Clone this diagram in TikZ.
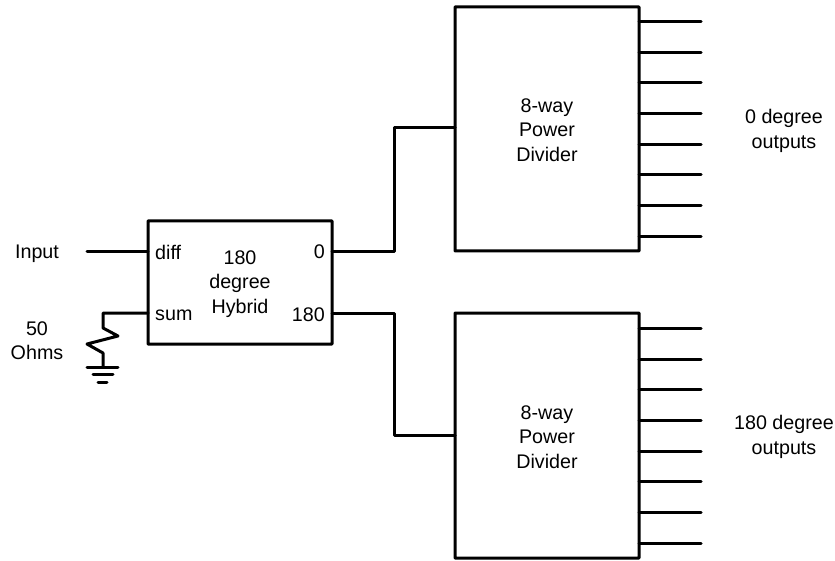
\documentclass[tikz,border=0pt]{standalone}
\usepackage{fontspec}
\setmainfont{Liberation Sans}
\begin{document}
\begin{tikzpicture}[x=1pt,y=-1pt,
  wire/.style={line width=3pt,line cap=round,line join=round},
  blockbox/.style={draw,line width=3pt,rounded corners=0.6pt,minimum width=#1,anchor=north west,inner sep=0pt,outer sep=0pt},
  lbl/.style={font=\fontsize{19.7}{24.5}\selectfont,align=center,inner sep=0pt}]
\useasboundingbox (0,0) rectangle (835,561);
\node[blockbox=184pt,minimum height=123pt] (hyb) at (148,221) {};
\node[blockbox=184pt,minimum height=244pt] (div1) at (455,7) {};
\node[blockbox=184pt,minimum height=245pt] (div2) at (455,313) {};
\node[lbl] (t1) at (240,284) {180\\degree\\Hybrid};
\node[lbl,anchor=west] (pd) at (155,252) {diff};
\node[lbl,anchor=west] (ps) at (155,315) {sum};
\node[lbl,anchor=east] (p0) at (325,252) {0};
\node[lbl,anchor=east] (p180) at (325,315) {180};
\node[lbl] (t2) at (547,130) {8-way\\Power\\Divider};
\node[lbl] (t3) at (547,437) {8-way\\Power\\Divider};
\node[lbl] (inp) at (37,254) {Input};
\node[lbl] (ohm) at (37,340.5) {50\\Ohms};
\node[lbl] (o1) at (784,131) {0 degree\\outputs};
\node[lbl] (o2) at (784,437) {180 degree\\outputs};
\coordinate (instart) at (87,252);
\coordinate (hin) at (hyb.west |- instart);
\draw[wire] (instart) -- (hin);
\coordinate (hsum) at (148,313);
\coordinate (gnd) at (103,367);
\draw[wire] (hsum) -- (103,313) -- (103,328) -- (118,336) -- (87,344) -- (103,353) -- (gnd);
\draw[wire] (87,367) -- (118,367);
\draw[wire] (93,374) -- (113,374);
\draw[wire] (98,382) -- (107,382);
\coordinate (h0) at (332,252);
\coordinate (h180) at (332,313);
\coordinate (d1in) at (div1.west |- 0,128);
\coordinate (d2in) at (div2.west |- 0,435);
\draw[wire] (h0) -- (394,252) -- (394,128) -- (d1in);
\draw[wire] (h180) -- (394,313) -- (394,435) -- (d2in);
\foreach \y in {22,52.5,83,114,144.5,175,206,236.5}{
  \coordinate (a) at (div1.east |- 0,\y);
  \coordinate (b) at (701,\y);
  \draw[wire] (a) -- (b);}
\foreach \y in {328.5,359,389.5,420.5,451,481.5,512,543}{
  \coordinate (a) at (div2.east |- 0,\y);
  \coordinate (b) at (701,\y);
  \draw[wire] (a) -- (b);}
\end{tikzpicture}
\end{document}
